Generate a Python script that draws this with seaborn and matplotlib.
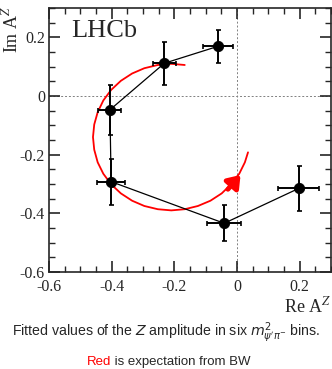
import seaborn as sns
import matplotlib.pyplot as plt
import pandas as pd
from matplotlib.ticker import MultipleLocator, FuncFormatter

# fitted Z amplitude in six bins
re_a = [-0.060, -0.232, -0.406, -0.402, -0.041, 0.197]
im_a = [0.170, 0.112, -0.047, -0.292, -0.434, -0.315]
re_err = [0.048, 0.037, 0.037, 0.044, 0.054, 0.066]
im_err = [0.057, 0.073, 0.085, 0.079, 0.061, 0.077]

# Breit-Wigner expectation (red curve)
bw_re = [-0.167, -0.210, -0.253, -0.296, -0.335, -0.371, -0.402, -0.427,
         -0.445, -0.456, -0.460, -0.456, -0.445, -0.427, -0.402, -0.371,
         -0.335, -0.296, -0.253, -0.210, -0.167, -0.125, -0.085, -0.049,
         -0.019, 0.007, 0.025, 0.035]
bw_im = [0.106, 0.110, 0.106, 0.095, 0.077, 0.052, 0.021, -0.015,
         -0.055, -0.097, -0.140, -0.183, -0.226, -0.265, -0.301, -0.332,
         -0.357, -0.375, -0.386, -0.390, -0.386, -0.375, -0.357, -0.332,
         -0.301, -0.265, -0.226, -0.192]

pts = pd.DataFrame({'re': re_a, 'im': im_a})
bw = pd.DataFrame({'re': bw_re, 'im': bw_im})

sns.set_style('ticks')
plt.rcParams['font.family'] = ['Liberation Serif', 'DejaVu Serif']
plt.rcParams['mathtext.fontset'] = 'stix'

fig = plt.figure(figsize=(3.32, 3.69), dpi=100)
ax = fig.add_axes([0.148, 0.263, 0.849, 0.715])

# dashed zero lines
ax.axhline(0, color='gray', ls=(0, (2, 2)), lw=0.7, zorder=0)
ax.axvline(0, color='gray', ls=(0, (2, 2)), lw=0.7, zorder=0)

# expectation curve with arrow
sns.lineplot(data=bw, x='re', y='im', sort=False, color='red', lw=1.3, ax=ax, estimator=None)
ax.annotate('', xy=(0.017, -0.262), xytext=(-0.035, -0.325),
            arrowprops=dict(arrowstyle='-|>,head_length=0.7,head_width=0.5', color='red', lw=3.5))

# fitted points
sns.lineplot(data=pts, x='re', y='im', sort=False, color='black', lw=0.9, ax=ax, estimator=None)
ax.errorbar(re_a, im_a, xerr=re_err, yerr=im_err, fmt='none', ecolor='black',
            elinewidth=1.4, capsize=1.8, capthick=1.2)
sns.scatterplot(data=pts, x='re', y='im', color='black', s=55, edgecolor='black', ax=ax, zorder=5)

ax.set_xlim(-0.6, 0.3)
ax.set_ylim(-0.6, 0.3)
ax.xaxis.set_major_locator(MultipleLocator(0.2))
ax.yaxis.set_major_locator(MultipleLocator(0.2))
ax.xaxis.set_minor_locator(MultipleLocator(0.05))
ax.yaxis.set_minor_locator(MultipleLocator(0.05))
ax.tick_params(which='both', direction='in', top=True, right=True, labelsize=11.5, pad=3)
ax.tick_params(axis='x', which='major', pad=5)
ax.tick_params(which='major', length=8, width=1.2)
ax.tick_params(which='minor', length=4, width=1)
for s in ax.spines.values():
    s.set_linewidth(1.2)
fmt = FuncFormatter(lambda v, p: '0' if abs(v) < 1e-9 else '%g' % v)
ax.xaxis.set_major_formatter(fmt)
ax.yaxis.set_major_formatter(fmt)

ax.set_xlabel('')
ax.set_ylabel('')
fig.text(0.997, 0.197, r'Re A$^{Z}$', ha='right', va='top', fontsize=13)
fig.text(0.005, 0.985, r'Im A$^{Z}$', ha='left', va='top', rotation=90, fontsize=13)
ax.text(0.08, 0.955, 'LHCb', transform=ax.transAxes, ha='left', va='top', fontsize=19)

# caption
sans = ['Liberation Sans', 'DejaVu Sans']
fig.text(0.5, 0.098, r'Fitted values of the $Z$ amplitude in six $m^2_{\psi^{\prime}\pi^{-}}$ bins.',
         ha='center', va='center', fontsize=10.2, family=sans, math_fontfamily='dejavusans')
red = fig.text(0.262, 0.02, 'Red', ha='left', va='center', fontsize=9.5, color='red', family=sans)
ax.annotate(' is expectation from BW', xy=(1, 0), xycoords=red, va='bottom', ha='left',
            fontsize=9.5, family=sans, annotation_clip=False)

fig.savefig('out.png', dpi=100)
